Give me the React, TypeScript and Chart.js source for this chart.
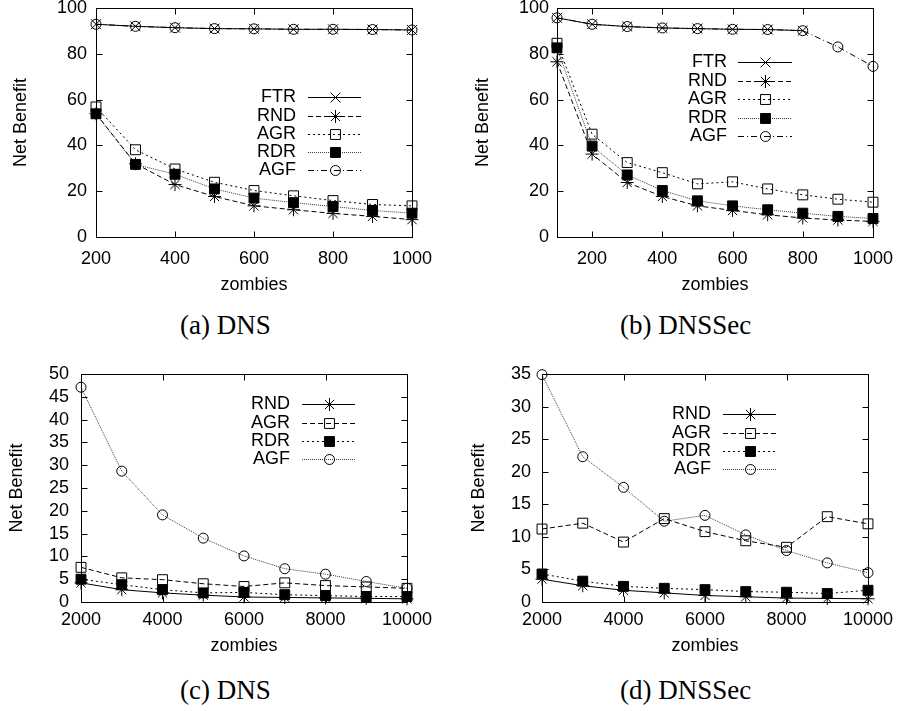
import React, { useEffect, useRef } from 'react';
import { Chart, registerables } from 'chart.js';
import { drawPoint } from 'chart.js/helpers';

Chart.register(...registerables);

const SANS = '"Liberation Sans", Arial, Helvetica, sans-serif';
const SERIF = '"Liberation Serif", "Times New Roman", serif';

// ---- (a) DNS ----
const zombiesA = [200, 300, 400, 500, 600, 700, 800, 900, 1000];
const ftrA = [92.9, 92.0, 91.4, 91.0, 90.9, 90.7, 90.7, 90.6, 90.4];
const rndA = [53.8, 32.0, 22.9, 17.7, 13.6, 11.9, 10.3, 9.0, 7.6];
const agrA = [56.8, 38.1, 29.7, 23.9, 20.3, 18.0, 15.9, 14.2, 13.6];
const rdrA = [53.8, 31.7, 27.4, 21.0, 17.0, 15.0, 13.3, 11.6, 10.4];
const agfA = [92.9, 92.0, 91.4, 91.0, 90.9, 90.7, 90.7, 90.6, 90.4];
const xTicksA = [200, 400, 600, 800, 1000];
const yTicksA = [0, 20, 40, 60, 80, 100];

// ---- (b) DNSSec ----
const zombiesB = [100, 200, 300, 400, 500, 600, 700, 800, 900, 1000];
const ftrB = [95.7, 92.9, 91.9, 91.3, 91.0, 90.7, 90.6, 90.1];
const rndB = [76.5, 36.2, 23.8, 17.7, 13.6, 11.6, 9.7, 8.3, 7.4, 6.8];
const agrB = [84.6, 44.9, 32.5, 28.1, 23.2, 24.1, 21.0, 18.4, 16.5, 15.2];
const rdrB = [82.6, 39.7, 27.1, 20.3, 15.8, 13.6, 11.9, 10.4, 9.0, 8.1];
const agfB = [95.7, 92.9, 91.9, 91.3, 91.0, 90.7, 90.6, 90.1, 83.0, 74.5];
const xTicksB = [200, 400, 600, 800, 1000];
const yTicksB = [0, 20, 40, 60, 80, 100];

// ---- (c) DNS ----
const zombiesC = [2000, 3000, 4000, 5000, 6000, 7000, 8000, 9000, 10000];
const rndC = [4.2, 2.7, 2.0, 1.5, 1.1, 1.0, 0.9, 0.8, 0.7];
const agrC = [7.6, 5.3, 4.9, 4.0, 3.4, 4.2, 3.6, 3.3, 3.0];
const rdrC = [5.0, 3.8, 2.7, 2.0, 2.1, 1.6, 1.4, 1.2, 1.2];
const agfC = [47.1, 28.7, 19.1, 14.0, 10.1, 7.3, 6.1, 4.5, 3.0];
const xTicksC = [2000, 4000, 6000, 8000, 10000];
const yTicksC = [0, 5, 10, 15, 20, 25, 30, 35, 40, 45, 50];

// ---- (d) DNSSec ----
const zombiesD = [2000, 3000, 4000, 5000, 6000, 7000, 8000, 9000, 10000];
const rndD = [3.5, 2.5, 1.8, 1.4, 1.0, 0.8, 0.6, 0.55, 0.5];
const agrD = [11.2, 12.1, 9.2, 12.8, 10.8, 9.4, 8.4, 13.1, 12.0];
const rdrD = [4.3, 3.2, 2.4, 2.1, 1.9, 1.6, 1.5, 1.3, 1.8];
const agfD = [34.9, 22.3, 17.6, 12.4, 13.3, 10.3, 7.9, 6.0, 4.5];
const xTicksD = [2000, 4000, 6000, 8000, 10000];
const yTicksD = [0, 5, 10, 15, 20, 25, 30, 35];

// gnuplot-like line types, assigned by plot order
const LINE_TYPES = [
  { color: '#000000', dash: [] as number[] },
  { color: '#000000', dash: [5, 3] },
  { color: '#000000', dash: [2, 3] },
  { color: '#3a3a3a', dash: [1, 1] },
  { color: '#000000', dash: [6, 3, 1, 3] },
];

const MARKERS: Record<string, { style: string; radius: number; filled: boolean }> = {
  FTR: { style: 'crossRot', radius: 7, filled: false },
  RND: { style: 'star', radius: 6.5, filled: false },
  AGR: { style: 'rect', radius: 7, filled: false },
  RDR: { style: 'rect', radius: 7, filled: true },
  AGF: { style: 'circle', radius: 5, filled: false },
};

type Series = { label: string; x: number[]; y: number[] };

type Panel = {
  caption: string;
  left: number;
  top: number;
  width: number;
  height: number;
  plot: { left: number; right: number; top: number; bottom: number };
  xMin: number;
  xMax: number;
  xTicks: number[];
  yMin: number;
  yMax: number;
  yTicks: number[];
  series: Series[];
  key: { textRight: number; lineStart: number; lineEnd: number; firstRow: number; rowGap: number };
  xTickPad: number;
  yTickPad: number;
  xTitlePad: number;
  yTitlePad: number;
  captionLeft: number;
  captionBaseline: number;
};

const PANELS: Panel[] = [
  {
    caption: '(a) DNS',
    left: 0, top: 0, width: 449, height: 300,
    plot: { left: 96, right: 412, top: 7, bottom: 237 },
    xMin: 200, xMax: 1000, xTicks: xTicksA,
    yMin: 0, yMax: 100, yTicks: yTicksA,
    series: [
      { label: 'FTR', x: zombiesA, y: ftrA },
      { label: 'RND', x: zombiesA, y: rndA },
      { label: 'AGR', x: zombiesA, y: agrA },
      { label: 'RDR', x: zombiesA, y: rdrA },
      { label: 'AGF', x: zombiesA, y: agfA },
    ],
    key: { textRight: 296, lineStart: 308, lineEnd: 361, firstRow: 97.3, rowGap: 18.25 },
    xTickPad: 11, yTickPad: 9, xTitlePad: 4, yTitlePad: 10,
    captionLeft: 180, captionBaseline: 335,
  },
  {
    caption: '(b) DNSSec',
    left: 449, top: 0, width: 449, height: 300,
    plot: { left: 108, right: 424, top: 7, bottom: 237 },
    xMin: 100, xMax: 1000, xTicks: xTicksB,
    yMin: 0, yMax: 100, yTicks: yTicksB,
    series: [
      { label: 'FTR', x: zombiesB, y: ftrB },
      { label: 'RND', x: zombiesB, y: rndB },
      { label: 'AGR', x: zombiesB, y: agrB },
      { label: 'RDR', x: zombiesB, y: rdrB },
      { label: 'AGF', x: zombiesB, y: agfB },
    ],
    key: { textRight: 278, lineStart: 289, lineEnd: 343, firstRow: 62.3, rowGap: 18.4 },
    xTickPad: 11, yTickPad: 8, xTitlePad: 4, yTitlePad: 23.4,
    captionLeft: 620, captionBaseline: 335,
  },
  {
    caption: '(c) DNS',
    left: 0, top: 350, width: 449, height: 310,
    plot: { left: 81, right: 407, top: 24, bottom: 252 },
    xMin: 2000, xMax: 10000, xTicks: xTicksC,
    yMin: 0, yMax: 50, yTicks: yTicksC,
    series: [
      { label: 'RND', x: zombiesC, y: rndC },
      { label: 'AGR', x: zombiesC, y: agrC },
      { label: 'RDR', x: zombiesC, y: rdrC },
      { label: 'AGF', x: zombiesC, y: agfC },
    ],
    key: { textRight: 290, lineStart: 302, lineEnd: 355, firstRow: 54.3, rowGap: 18.35 },
    xTickPad: 7, yTickPad: 12, xTitlePad: 3.5, yTitlePad: 6.2,
    captionLeft: 180, captionBaseline: 700,
  },
  {
    caption: '(d) DNSSec',
    left: 449, top: 350, width: 449, height: 310,
    plot: { left: 93, right: 419, top: 24, bottom: 252 },
    xMin: 2000, xMax: 10000, xTicks: xTicksD,
    yMin: 0, yMax: 35, yTicks: yTicksD,
    series: [
      { label: 'RND', x: zombiesD, y: rndD },
      { label: 'AGR', x: zombiesD, y: agrD },
      { label: 'RDR', x: zombiesD, y: rdrD },
      { label: 'AGF', x: zombiesD, y: agfD },
    ],
    key: { textRight: 262, lineStart: 274, lineEnd: 327, firstRow: 64.3, rowGap: 18.35 },
    xTickPad: 7, yTickPad: 11, xTitlePad: 3.5, yTitlePad: 18.9,
    captionLeft: 620, captionBaseline: 700,
  },
];

// Border box with inward tick marks on all four sides
const framePlugin = {
  id: 'gnuFrame',
  beforeDatasetsDraw(chart: any) {
    const { ctx, chartArea: a } = chart;
    const xs = chart.scales.x;
    const ys = chart.scales.y;
    const L = Math.round(a.left) + 0.5;
    const R = Math.round(a.right) + 0.5;
    const T = Math.round(a.top) + 0.5;
    const B = Math.round(a.bottom) + 0.5;
    const len = 6;
    ctx.save();
    ctx.strokeStyle = '#000';
    ctx.lineWidth = 1;
    ctx.setLineDash([]);
    ctx.beginPath();
    for (const t of xs.ticks) {
      const px = Math.round(xs.getPixelForValue(t.value)) + 0.5;
      ctx.moveTo(px, B);
      ctx.lineTo(px, B - len);
      ctx.moveTo(px, T);
      ctx.lineTo(px, T + len);
    }
    for (const t of ys.ticks) {
      const py = Math.round(ys.getPixelForValue(t.value)) + 0.5;
      ctx.moveTo(L, py);
      ctx.lineTo(L + len, py);
      ctx.moveTo(R, py);
      ctx.lineTo(R - len, py);
    }
    ctx.stroke();
    ctx.strokeRect(L, T, R - L, B - T);
    ctx.restore();
  },
};

// Key: right-aligned label followed by a line sample with its marker
const keyPlugin = {
  id: 'gnuKey',
  afterDatasetsDraw(chart: any, _args: any, opts: any) {
    const { ctx } = chart;
    chart.data.datasets.forEach((ds: any, i: number) => {
      const y = Math.round(opts.firstRow + i * opts.rowGap) + 0.5;
      ctx.save();
      ctx.font = `18px ${SANS}`;
      ctx.fillStyle = '#000';
      ctx.textAlign = 'right';
      ctx.textBaseline = 'middle';
      ctx.fillText(ds.label, opts.textRight, y);
      ctx.strokeStyle = ds.borderColor;
      ctx.lineWidth = 1;
      ctx.setLineDash(ds.borderDash);
      ctx.beginPath();
      ctx.moveTo(opts.lineStart, y);
      ctx.lineTo(opts.lineEnd, y);
      ctx.stroke();
      ctx.setLineDash([]);
      ctx.strokeStyle = '#000';
      ctx.fillStyle = ds.pointBackgroundColor;
      drawPoint(
        ctx,
        { pointStyle: ds.pointStyle, radius: ds.pointRadius, rotation: 0, borderWidth: 1 } as any,
        Math.round((opts.lineStart + opts.lineEnd) / 2) + 0.5,
        y,
      );
      ctx.restore();
    });
  },
};

function buildConfig(p: Panel): any {
  const font = { family: SANS, size: 18 };
  const datasets = p.series.map((s, i) => {
    const lt = LINE_TYPES[i];
    const mk = MARKERS[s.label];
    return {
      label: s.label,
      data: s.y.map((v, j) => ({ x: s.x[j], y: v })),
      borderColor: lt.color,
      borderDash: lt.dash,
      borderWidth: 1,
      pointStyle: mk.style,
      pointRadius: mk.radius,
      pointBorderColor: '#000',
      pointBackgroundColor: mk.filled ? '#000' : 'rgba(0,0,0,0)',
      pointBorderWidth: 1,
      tension: 0,
      fill: false,
      clip: false,
    };
  });
  return {
    type: 'line',
    data: { datasets },
    plugins: [framePlugin, keyPlugin],
    options: {
      responsive: false,
      maintainAspectRatio: false,
      devicePixelRatio: 1,
      animation: false,
      events: [],
      layout: { padding: { left: 0, top: p.plot.top, right: p.width - p.plot.right, bottom: 0 } },
      plugins: {
        legend: { display: false },
        tooltip: { enabled: false },
        gnuKey: p.key,
      },
      scales: {
        x: {
          type: 'linear',
          min: p.xMin,
          max: p.xMax,
          afterBuildTicks: (sc: any) => {
            sc.ticks = p.xTicks.map((v) => ({ value: v }));
          },
          afterFit: (sc: any) => {
            sc.height = p.height - p.plot.bottom;
            sc.paddingLeft = 0;
            sc.paddingRight = 0;
          },
          grid: { display: false, drawTicks: false },
          border: { display: false },
          ticks: {
            color: '#000',
            font,
            padding: p.xTickPad,
            maxRotation: 0,
            autoSkip: false,
            callback: (v: any) => String(v),
          },
          title: {
            display: true,
            text: 'zombies',
            color: '#000',
            font,
            padding: { top: 0, bottom: p.xTitlePad },
          },
        },
        y: {
          type: 'linear',
          min: p.yMin,
          max: p.yMax,
          afterBuildTicks: (sc: any) => {
            sc.ticks = p.yTicks.map((v) => ({ value: v }));
          },
          afterFit: (sc: any) => {
            sc.width = p.plot.left;
            sc.paddingTop = 0;
            sc.paddingBottom = 0;
          },
          grid: { display: false, drawTicks: false },
          border: { display: false },
          ticks: {
            color: '#000',
            font,
            padding: p.yTickPad,
            autoSkip: false,
            callback: (v: any) => String(v),
          },
          title: {
            display: true,
            text: 'Net Benefit',
            color: '#000',
            font,
            padding: { top: p.yTitlePad, bottom: 0 },
          },
        },
      },
    },
  };
}

function PanelChart({ p }: { p: Panel }) {
  const ref = useRef<HTMLCanvasElement>(null);
  useEffect(() => {
    if (!ref.current) return;
    const chart = new Chart(ref.current, buildConfig(p));
    return () => chart.destroy();
  }, [p]);
  return (
    <canvas
      ref={ref}
      width={p.width}
      height={p.height}
      style={{ position: 'absolute', left: p.left, top: p.top, width: p.width, height: p.height }}
    />
  );
}

export default function App() {
  return (
    <div
      style={{
        position: 'absolute',
        left: 0,
        top: 0,
        width: 898,
        height: 711,
        background: '#fff',
        overflow: 'hidden',
      }}
    >
      {PANELS.map((p) => (
        <React.Fragment key={p.caption + p.left + p.top}>
          <PanelChart p={p} />
          <div
            style={{
              position: 'absolute',
              left: p.captionLeft,
              top: p.captionBaseline - 22.6,
              fontFamily: SERIF,
              fontSize: 27,
              lineHeight: '27px',
              whiteSpace: 'pre',
              color: '#000',
            }}
          >
            {p.caption}
          </div>
        </React.Fragment>
      ))}
    </div>
  );
}
